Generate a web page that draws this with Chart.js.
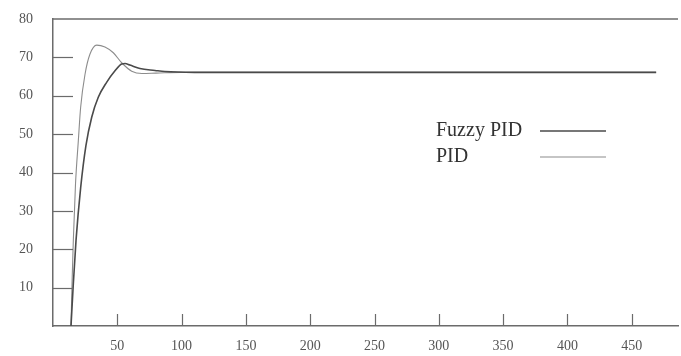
<!DOCTYPE html>
<html>
<head>
<meta charset="utf-8">
<script src="https://cdn.jsdelivr.net/npm/chart.js@4/dist/chart.umd.min.js"></script>
<style>
  html, body { margin: 0; padding: 0; background: #fff; }
  #wrap { width: 681px; height: 356px; }
</style>
</head>
<body>
<div id="wrap"><canvas id="myChart"></canvas></div>
<script>
// response data (time, value)
const seriesNames = ["Fuzzy PID", "PID"];
const fuzzyTime = [14, 15.8, 17.9, 21.5, 25.6, 30.1, 35.2, 41.7, 48.2, 53.4, 56, 59.8, 67.6, 79.3, 87, 110, 150, 250, 350, 469];
const fuzzyValue = [0, 11, 22.3, 36, 47, 54.4, 59.6, 63.5, 66.5, 68.3, 68.4, 68, 67.1, 66.6, 66.3, 66.1, 66.1, 66.1, 66.1, 66.1];
const pidTime = [14, 14.8, 15.8, 17.5, 19.7, 21.5, 24.9, 28.7, 34, 40.4, 46.9, 53.4, 61.2, 69.2, 80, 100, 150, 250, 350, 469];
const pidValue = [0, 11, 22.3, 37, 48.3, 57, 65.6, 70.8, 73.2, 72.7, 71.2, 68.6, 66.4, 65.8, 65.9, 66.1, 66.1, 66.1, 66.1, 66.1];
const xTicks = [50, 100, 150, 200, 250, 300, 350, 400, 450];
const yTicks = [10, 20, 30, 40, 50, 60, 70, 80];

function toPoints(xs, ys) {
  return xs.map((x, i) => ({ x: x, y: ys[i] }));
}

const axisColor = "#6b6b6b";
const textColor = "#555";
const serif = "'Liberation Serif', 'DejaVu Serif', serif";

// inner tick marks, top border line and the legend in the plot
const extras = {
  id: "extras",
  afterDraw(chart) {
    const ctx = chart.ctx;
    const a = chart.chartArea;
    const xs = chart.scales.x, ys = chart.scales.y;
    ctx.save();
    ctx.strokeStyle = axisColor;
    ctx.lineWidth = 1.5;
    ctx.beginPath();
    ctx.moveTo(a.left, a.top);
    ctx.lineTo(a.right, a.top);
    ctx.stroke();
    ctx.lineWidth = 1.2;
    xTicks.forEach(v => {
      const px = Math.round(xs.getPixelForValue(v)) + 0.5;
      ctx.beginPath();
      ctx.moveTo(px, a.bottom);
      ctx.lineTo(px, a.bottom - 12);
      ctx.stroke();
    });
    yTicks.slice(0, -1).forEach(v => {
      const py = Math.round(ys.getPixelForValue(v)) + 0.5;
      ctx.beginPath();
      ctx.moveTo(a.left, py);
      ctx.lineTo(a.left + 20, py);
      ctx.stroke();
    });
    // legend
    ctx.font = "20px " + serif;
    ctx.fillStyle = "#333";
    ctx.textBaseline = "middle";
    const rows = [131, 157];
    chart.data.datasets.forEach((ds, i) => {
      ctx.fillText(ds.label, 436, rows[i]);
      ctx.strokeStyle = ds.borderColor;
      ctx.lineWidth = ds.borderWidth;
      ctx.beginPath();
      ctx.moveTo(540, rows[i]);
      ctx.lineTo(606, rows[i]);
      ctx.stroke();
    });
    ctx.restore();
  }
};

const myChart = new Chart("myChart", {
  type: "line",
  data: {
    datasets: [{
      label: seriesNames[0],
      data: toPoints(fuzzyTime, fuzzyValue),
      borderColor: "#4a4a4a",
      borderWidth: 1.6,
      pointRadius: 0,
      cubicInterpolationMode: "monotone",
      fill: false
    }, {
      label: seriesNames[1],
      data: toPoints(pidTime, pidValue),
      borderColor: "#8c8c8c",
      borderWidth: 1.1,
      pointRadius: 0,
      cubicInterpolationMode: "monotone",
      fill: false
    }]
  },
  options: {
    responsive: true,
    maintainAspectRatio: false,
    animation: false,
    layout: { padding: { top: 19, right: 3, left: 0, bottom: 0 } },
    plugins: { legend: { display: false }, tooltip: { enabled: false } },
    scales: {
      x: {
        type: "linear",
        min: 0,
        max: 486,
        afterBuildTicks: s => { s.ticks = xTicks.map(v => ({ value: v })); },
        afterFit: s => { s.height = 30; },
        grid: { display: false, drawTicks: false },
        border: { display: true, color: axisColor, width: 1.5 },
        ticks: {
          padding: 12,
          maxRotation: 0,
          autoSkip: false,
          color: textColor,
          font: { family: serif, size: 14 }
        }
      },
      y: {
        min: 0,
        max: 80,
        afterBuildTicks: s => { s.ticks = yTicks.map(v => ({ value: v })); },
        // tick padding would otherwise push the plot top down
        afterFit: s => { s.width = 53; s.paddingTop = 0; s.paddingBottom = 0; },
        grid: { display: false, drawTicks: false },
        border: { display: true, color: axisColor, width: 1.5 },
        ticks: {
          padding: 20,
          color: textColor,
          font: { family: serif, size: 14 }
        }
      }
    }
  },
  plugins: [extras]
});
</script>
</body>
</html>
